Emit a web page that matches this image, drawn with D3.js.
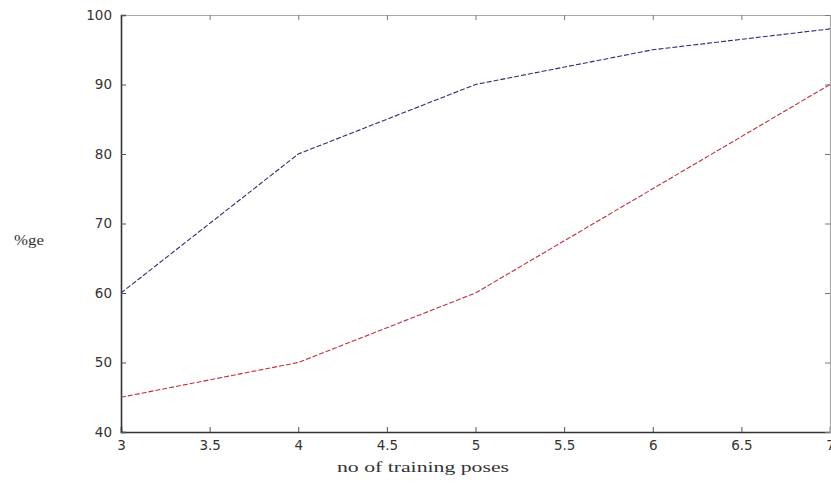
<!DOCTYPE html>
<html>
<head>
<meta charset="utf-8">
<script src="https://cdn.jsdelivr.net/npm/d3@7"></script>
<style>
  body { margin: 0; background: #fff; }
  text { fill: #333; }
</style>
</head>
<body>
<svg id="chart" width="831" height="483"></svg>
<script>
const poses = [3, 4, 5, 6, 7];
const blueSeries = [60, 80, 90, 95, 98];
const redSeries = [45, 50, 60, 75, 90];
const xTicks = [3, 3.5, 4, 4.5, 5, 5.5, 6, 6.5, 7];
const yTicks = [40, 50, 60, 70, 80, 90, 100];

const plotLeft = 121, plotRight = 830, plotTop = 15, plotBottom = 432;

const svg = d3.select("#chart");

const x = d3.scaleLinear().domain([3, 7]).range([plotLeft, plotRight]);
const y = d3.scaleLinear().domain([40, 100]).range([plotBottom, plotTop]);

function tickFmt(d) { return String(d); }

// box axes
const gBottom = svg.append("g").attr("transform", "translate(0," + plotBottom + ")")
  .call(d3.axisBottom(x).tickValues(xTicks).tickSize(-5).tickPadding(11).tickFormat(tickFmt));
const gTop = svg.append("g").attr("transform", "translate(0," + plotTop + ")")
  .call(d3.axisTop(x).tickValues(xTicks).tickSize(-5).tickFormat(""));
const gLeft = svg.append("g").attr("transform", "translate(" + plotLeft + ",0)")
  .call(d3.axisLeft(y).tickValues(yTicks).tickSize(-5).tickPadding(9).tickFormat(tickFmt));
const gRight = svg.append("g").attr("transform", "translate(" + plotRight + ",0)")
  .call(d3.axisRight(y).tickValues(yTicks).tickSize(-5).tickFormat(""));

[gBottom, gLeft].forEach(function(g) {
  g.select(".domain").attr("stroke", "#333").attr("stroke-width", 1.6);
  g.selectAll(".tick line").attr("stroke", "#555");
  g.selectAll("text").attr("font-family", "DejaVu Sans").attr("font-size", 13.5)
    .attr("fill", "#333");
});
[gTop, gRight].forEach(function(g) {
  g.select(".domain").attr("stroke", "#aaa").attr("stroke-width", 1.2);
  g.selectAll(".tick line").attr("stroke", "#777");
});
gBottom.selectAll(".tick text").attr("dy", "0.55em");

const line = d3.line()
  .x(function(d) { return x(d[0]); })
  .y(function(d) { return y(d[1]); });

svg.append("path")
  .datum(d3.zip(poses, blueSeries))
  .attr("d", line)
  .attr("fill", "none")
  .attr("stroke", "#2a2f7a")
  .attr("stroke-width", 1.1)
  .attr("stroke-dasharray", "5,2");

svg.append("path")
  .datum(d3.zip(poses, redSeries))
  .attr("d", line)
  .attr("fill", "none")
  .attr("stroke", "#c0303c")
  .attr("stroke-width", 1.1)
  .attr("stroke-dasharray", "5,2");

svg.append("text")
  .attr("transform", "translate(14,245) scale(1.2,1)")
  .attr("font-family", "Liberation Serif").attr("font-size", 14)
  .text("%ge");

svg.append("text")
  .attr("transform", "translate(423,472) scale(1.5,1)")
  .attr("text-anchor", "middle")
  .attr("font-family", "Liberation Serif").attr("font-size", 14.5)
  .text("no of training poses");
</script>
</body>
</html>
